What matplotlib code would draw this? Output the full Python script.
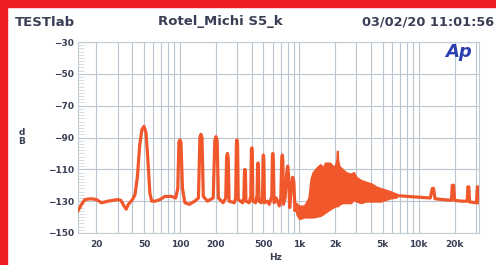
import matplotlib
matplotlib.use("Agg")
import matplotlib.pyplot as plt
from matplotlib.patches import Rectangle
from matplotlib.ticker import FixedLocator, NullFormatter

# spectrum below ~1 kHz (hum harmonics)
low_freq = [14, 15, 16, 18, 20, 22, 25, 30, 32, 34, 35.5, 37, 40, 42, 44, 46, 48, 50, 52, 54, 56, 58,
            62, 68, 75, 85, 92, 96, 98, 100, 102, 105, 110, 120, 133, 143, 147, 150, 153, 157,
            170, 190, 196, 200, 205, 210, 230, 242, 246, 250, 254, 258, 285, 293, 297, 300, 304,
            308, 335, 343, 347, 350, 354, 357, 380, 392, 397, 400, 404, 408, 430, 443, 447, 450,
            454, 460, 480, 492, 497, 500, 505, 510, 540, 560, 588, 595, 600, 606, 615, 640, 680,
            700, 712, 720, 728, 735, 760, 785, 800, 815, 830, 860, 880, 900, 920, 950, 980]
low_db = [-136, -132, -129, -128.5, -129, -131, -130, -129, -129.5, -133, -135, -132, -129, -126,
          -115, -95, -85, -83, -87, -105, -125, -130,
          -130, -129, -127, -127, -128, -122, -93, -91.5, -93, -122, -131, -132, -130, -128, -90,
          -88, -90, -127,
          -130, -128, -92, -89.5, -92, -128, -131, -128, -102, -100, -103, -130, -131, -128, -94,
          -91.5, -94,
          -129, -131, -128, -112, -110, -113, -130, -131, -127, -98, -96.5, -99, -130, -131, -126,
          -108, -106,
          -109, -130, -131, -128, -103, -101, -104, -131, -130, -132, -127, -102, -100, -104, -131,
          -128, -133,
          -128, -104, -101, -105, -132, -128, -112, -108, -115, -134, -120, -115, -118, -136, -132,
          -138]

# dense noise region around 1-6 kHz (upper / lower envelope)
band_freq = [950, 1000, 1100, 1200, 1250, 1300, 1400, 1500, 1580, 1650, 1800, 1900, 2000, 2060,
             2080, 2100, 2150, 2300, 2450, 2700, 2850, 3000, 3300, 3600, 4000, 4400, 4800, 5800,
             6500]
band_hi = [-132, -133, -133, -128, -116, -112, -109, -107, -109, -106, -106, -108, -108, -104,
           -98.5, -104, -108, -110, -112, -113, -112, -115, -117, -118, -119, -121, -122, -124,
           -125.5]
band_lo = [-138, -141, -140, -140, -140, -140, -139.5, -139, -138, -137, -135, -134, -133, -133,
           -133, -133, -132, -131, -131, -131, -129, -130, -131, -130, -130, -130, -130, -128,
           -127.5]

# spectrum above the noise region
high_freq = [6500, 8000, 10000, 12500, 13000, 13300, 13700, 16000, 18800, 19100, 19600, 20000,
             23000, 25500, 25800, 26300, 26700, 30500, 31000, 31600, 32000]
high_db = [-126.5, -127, -127.5, -128, -122, -122, -128.5, -129, -129.5, -120, -120, -129.5,
           -130, -130, -121, -121, -130.5, -131, -121, -121, -131]

x_ticks = [20, 50, 100, 200, 500, 1000, 2000, 5000, 10000, 20000]
x_labels = ["20", "50", "100", "200", "500", "1k", "2k", "5k", "10k", "20k"]
y_ticks = [-30, -50, -70, -90, -110, -130, -150]

line_col = "#f0582c"
text_col = "#3a3f55"
grid_col = "#b9c6d2"

fig = plt.figure(figsize=(4.96, 2.65), dpi=100)
fig.patch.set_facecolor("white")

# red frame strips
fig.patches.append(Rectangle((0, 1 - 7 / 265), 1, 7 / 265, transform=fig.transFigure,
                             color="#ee1c25", zorder=0))
fig.patches.append(Rectangle((0, 0), 7 / 496, 1, transform=fig.transFigure,
                             color="#ee1c25", zorder=0))

ax = fig.add_axes([78 / 496, 1 - 233 / 265, 401 / 496, 191 / 265])
ax.set_xscale("log")
ax.set_xlim(14, 32000)
ax.set_ylim(-150, -30)

ax.plot(low_freq, low_db, color=line_col, lw=2.3, solid_joinstyle="round", zorder=3)
ax.fill_between(band_freq, band_lo, band_hi, color=line_col, lw=1.5, edgecolor=line_col, zorder=3)
ax.plot(high_freq, high_db, color=line_col, lw=2.3, solid_joinstyle="round", zorder=3)

# grid
minor_x = [m * d for d in (10, 100, 1000, 10000) for m in range(1, 10) if 14 < m * d < 32000]
ax.xaxis.set_major_locator(FixedLocator(x_ticks))
ax.xaxis.set_minor_locator(FixedLocator(minor_x))
ax.xaxis.set_minor_formatter(NullFormatter())
ax.set_xticklabels(x_labels)
ax.set_yticks(y_ticks)
ax.set_yticks(list(range(-150, -29, 2)), minor=True)
ax.grid(True, which="both", axis="x", color=grid_col, lw=0.8)
ax.grid(True, which="major", axis="y", color=grid_col, lw=0.8)
ax.set_axisbelow(True)

for s in ax.spines.values():
    s.set_color("#c3cbd3")
    s.set_linewidth(0.8)

ax.tick_params(axis="x", which="both", length=0, pad=5, labelsize=6.5, labelcolor=text_col)
ax.tick_params(axis="y", which="major", length=0, pad=3, labelsize=6.5, labelcolor=text_col)
ax.tick_params(axis="y", which="minor", direction="in", length=4, width=0.5, color="#c8cfd6")
for lab in ax.get_xticklabels() + ax.get_yticklabels():
    lab.set_fontweight("bold")

# header texts
fig.text(15 / 496, 1 - 22 / 265, "TESTlab", fontsize=9.5, fontweight="bold", color=text_col,
         ha="left", va="center")
fig.text(220 / 496, 1 - 22 / 265, "Rotel_Michi S5_k", fontsize=9.5, fontweight="bold",
         color=text_col, ha="center", va="center")
fig.text(494 / 496, 1 - 22 / 265, "03/02/20 11:01:56", fontsize=9.3, fontweight="bold",
         color=text_col, ha="right", va="center")

# axis labels
fig.text(22 / 496, 1 - 137 / 265, "d\nB", fontsize=6.5, fontweight="bold", color=text_col,
         ha="center", va="center", linespacing=1.1)
fig.text(275 / 496, 1 - 258 / 265, "Hz", fontsize=6.5, fontweight="bold", color=text_col,
         ha="center", va="center")

# Ap logo
fig.text(459 / 496, 1 - 52 / 265, "Ap", fontsize=13, fontweight="bold", fontstyle="italic",
         color="#2b3fae", ha="center", va="center")

fig.savefig("out.png", dpi=100, facecolor="white")
